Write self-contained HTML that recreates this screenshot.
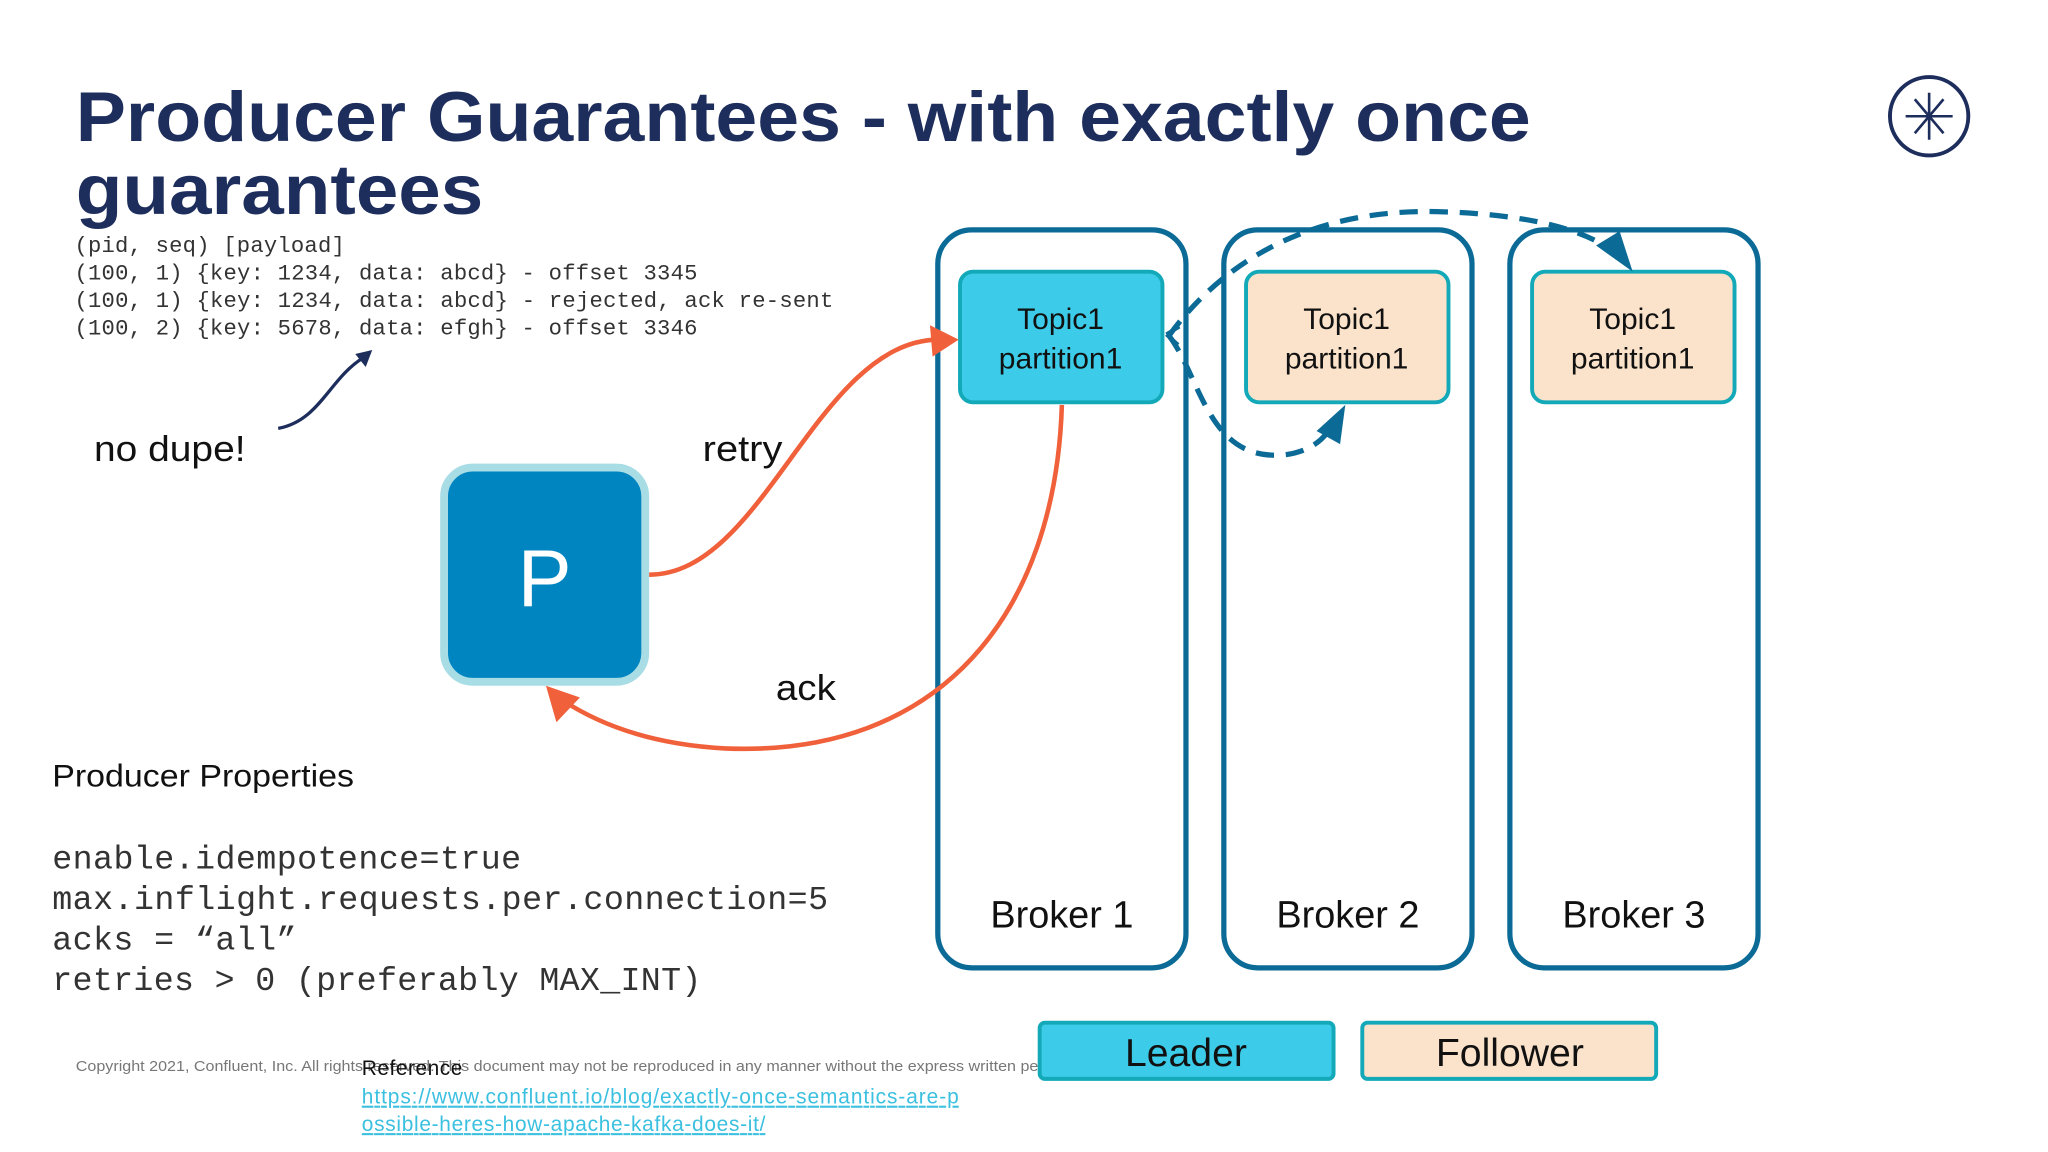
<!DOCTYPE html>
<html><head><meta charset="utf-8"><style>
html,body{margin:0;padding:0;background:#fff;width:2048px;height:1152px;overflow:hidden}
svg{display:block}
</style></head><body>
<svg width="2048" height="1152" viewBox="0 0 1568 882" xmlns="http://www.w3.org/2000/svg">
<rect width="1568" height="882" fill="#fff"/>
<g font-family="Liberation Sans, sans-serif" font-weight="bold" fill="#1d2d5c" font-size="54">
<text x="58" y="108" textLength="1114" lengthAdjust="spacingAndGlyphs">Producer Guarantees - with exactly once</text>
<text x="58" y="164" textLength="312" lengthAdjust="spacingAndGlyphs">guarantees</text>
</g>
<g stroke="#1d2d5c" fill="none" stroke-width="3">
<circle cx="1477" cy="89" r="30"/>
<g stroke-width="2"><line x1="1459" y1="89" x2="1495" y2="89"/><line x1="1477" y1="71" x2="1477" y2="107"/><line x1="1466" y1="76" x2="1488" y2="102"/><line x1="1488" y1="76" x2="1466" y2="102"/></g>
</g>
<g font-family="Liberation Mono, monospace" font-size="17" fill="#333" lengthAdjust="spacingAndGlyphs">
<text x="57" y="193" textLength="207">(pid, seq) [payload]</text>
<text x="57" y="214" textLength="477">(100, 1) {key: 1234, data: abcd} - offset 3345</text>
<text x="57" y="235" textLength="581">(100, 1) {key: 1234, data: abcd} - rejected, ack re-sent</text>
<text x="57" y="256" textLength="477">(100, 2) {key: 5678, data: efgh} - offset 3346</text>
</g>
<path d="M213,328 C245,322 252,290 278,274" fill="none" stroke="#1d2d5c" stroke-width="2.5"/>
<polygon points="285,268 272,271 280,281" fill="#1d2d5c"/>
<g font-family="Liberation Sans, sans-serif" fill="#111">
<text x="72" y="353" font-size="28" textLength="116" lengthAdjust="spacingAndGlyphs">no dupe!</text>
<text x="538" y="353" font-size="28" textLength="61" lengthAdjust="spacingAndGlyphs">retry</text>
<text x="594" y="536" font-size="28" textLength="46" lengthAdjust="spacingAndGlyphs">ack</text>
<text x="40" y="602" font-size="24" textLength="231" lengthAdjust="spacingAndGlyphs">Producer Properties</text>
</g>
<g font-family="Liberation Mono, monospace" font-size="25.5" fill="#333" lengthAdjust="spacingAndGlyphs">
<text x="40" y="665" textLength="359">enable.idempotence=true</text>
<text x="40" y="696" textLength="594">max.inflight.requests.per.connection=5</text>
<text x="40" y="727" textLength="187">acks = “all”</text>
<text x="40" y="758" textLength="497">retries &gt; 0 (preferably MAX_INT)</text>
</g>
<rect x="340" y="358" width="154" height="164" rx="22" fill="#0085c0" stroke="#a8dde6" stroke-width="6"/>
<text x="417" y="464" font-family="Liberation Sans, sans-serif" font-size="62" fill="#fff" text-anchor="middle">P</text>
<g fill="none" stroke="#0b6a96" stroke-width="4">
<rect x="718" y="176" width="190" height="565" rx="26"/>
<rect x="937" y="176" width="190" height="565" rx="26"/>
<rect x="1156" y="176" width="190" height="565" rx="26"/>
</g>
<g stroke="#13a9b8" stroke-width="3">
<rect x="735" y="208" width="155" height="100" rx="10" fill="#3ccbe8"/>
<rect x="954" y="208" width="155" height="100" rx="10" fill="#fbe3cb"/>
<rect x="1173" y="208" width="155" height="100" rx="10" fill="#fbe3cb"/>
</g>
<g font-family="Liberation Sans, sans-serif" font-size="23" fill="#111" text-anchor="middle">
<text x="812" y="252">Topic1</text><text x="812" y="282">partition1</text>
<text x="1031" y="252">Topic1</text><text x="1031" y="282">partition1</text>
<text x="1250" y="252">Topic1</text><text x="1250" y="282">partition1</text>
</g>
<g font-family="Liberation Sans, sans-serif" font-size="29" fill="#111" text-anchor="middle">
<text x="813" y="710">Broker 1</text><text x="1032" y="710">Broker 2</text><text x="1251" y="710">Broker 3</text>
</g>
<g fill="none" stroke="#f0603a" stroke-width="3.5">
<path d="M497,440 C585,440 625,262 718,260"/>
<path d="M813,310 C808,470 720,580 555,573 C500,570 460,555 432,537"/>
</g>
<polygon points="734,260 712,249 714,273" fill="#f0603a"/>
<polygon points="418,525 426,553 444,534" fill="#f0603a"/>
<g fill="none" stroke="#0b6a96" stroke-width="4" stroke-dasharray="14 9">
<path d="M895,257 C940,195 1010,160 1100,162 C1170,164 1210,175 1235,192"/>
<path d="M895,257 C920,290 925,355 985,348 C1005,345 1015,335 1020,325"/>
</g>
<path d="M893,256 l10,-6 M893,256 l9,8" stroke="#0b6a96" stroke-width="3" fill="none"/>
<polygon points="1250,208 1222,188 1240,177" fill="#0b6a96"/>
<polygon points="1030,310 1008,330 1026,340" fill="#0b6a96"/>
<rect x="796" y="783" width="225" height="43" rx="4" fill="#3ccbe8" stroke="#13a9b8" stroke-width="3"/>
<rect x="1043" y="783" width="225" height="43" rx="4" fill="#fbe3cb" stroke="#13a9b8" stroke-width="3"/>
<g font-family="Liberation Sans, sans-serif" font-size="30" fill="#111" text-anchor="middle">
<text x="908" y="816">Leader</text><text x="1156" y="816">Follower</text>
</g>
<text x="58" y="820" font-family="Liberation Sans, sans-serif" font-size="11.5" fill="#777" textLength="737" lengthAdjust="spacingAndGlyphs">Copyright 2021, Confluent, Inc. All rights reserved. This document may not be reproduced in any manner without the express written pe</text>
<g font-family="Liberation Sans, sans-serif" font-size="16" lengthAdjust="spacingAndGlyphs">
<text x="277" y="823" fill="#111" textLength="77">Reference</text>
<text x="277" y="845" fill="#3cc0e0" text-decoration="underline" textLength="457">https://www.confluent.io/blog/exactly-once-semantics-are-p</text>
<text x="277" y="866" fill="#3cc0e0" text-decoration="underline" textLength="309">ossible-heres-how-apache-kafka-does-it/</text>
</g>
</svg>
</body></html>
